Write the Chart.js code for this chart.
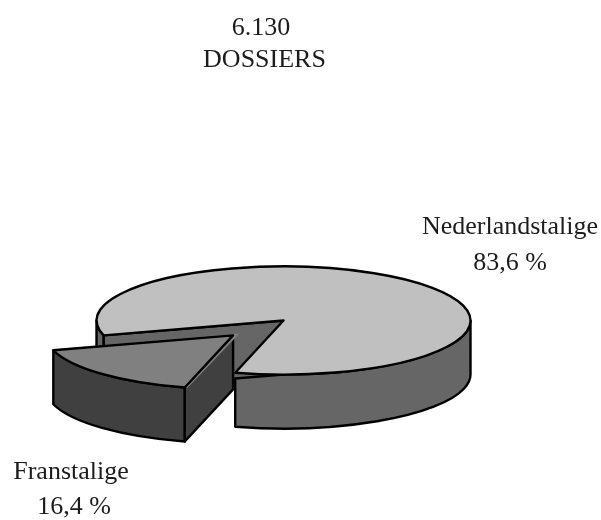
<!DOCTYPE html>
<html>
<head>
<meta charset="utf-8">
<style>
  html, body { margin: 0; padding: 0; background: #fff; }
  canvas { display: block; }
</style>
<script src="https://cdn.jsdelivr.net/npm/chart.js@4/dist/chart.umd.min.js"></script>
</head>
<body>
<canvas id="pie" width="601" height="520"></canvas>
<script>
// Dossiers by language role
const totalLines = ['6.130', 'DOSSIERS'];
const categories = ['Nederlandstalige', 'Franstalige'];
const shares = [83.6, 16.4];
const shareLabels = ['83,6 %', '16,4 %'];
const topColours = ['#c0c0c0', '#808080'];
const sideColours = ['#666666', '#404040'];

// Tilted-disc geometry on the page
const DISC = { cx: 283.5, cy: 320.5, tilt: 0.289, depth: 54, radius: 187, pull: 252 };
const INK = '#000000';
const PEN = 2.4;
const TEXT_INK = '#1c1c1c';
const TEXT_FONT = '26px "Liberation Serif"';

// Where an arc's centre lands once the tilt and the slice pull-out are applied
function placed(arc) {
  const mid = (arc.startAngle + arc.endAngle) / 2;
  const o = (arc.options.offset || 0) / 4;
  const shift = o * (2 - Math.sin(Math.min(Math.PI, arc.circumference)));
  return {
    x: DISC.cx + Math.cos(mid) * shift,
    y: DISC.cy + Math.sin(mid) * shift * DISC.tilt,
    rx: arc.outerRadius,
    ry: arc.outerRadius * DISC.tilt
  };
}

function rimPoint(p, angle, drop) {
  return [p.x + Math.cos(angle) * p.rx, p.y + Math.sin(angle) * p.ry + drop];
}

function paint(ctx, fill) {
  ctx.fillStyle = fill;
  ctx.fill();
  ctx.strokeStyle = INK;
  ctx.lineWidth = PEN;
  ctx.lineJoin = 'round';
  ctx.stroke();
}

// Outer wall, limited to the front half of the disc
function drawRimWall(ctx, p, from, to, fill) {
  ctx.beginPath();
  ctx.ellipse(p.x, p.y, p.rx, p.ry, 0, from, to);
  ctx.lineTo(...rimPoint(p, to, DISC.depth));
  ctx.ellipse(p.x, p.y + DISC.depth, p.rx, p.ry, 0, to, from, true);
  ctx.closePath();
  paint(ctx, fill);
}

// Flat cut wall running from the centre out to the rim
function drawCutWall(ctx, p, angle, fill) {
  ctx.beginPath();
  ctx.moveTo(p.x, p.y);
  ctx.lineTo(...rimPoint(p, angle, 0));
  ctx.lineTo(...rimPoint(p, angle, DISC.depth));
  ctx.lineTo(p.x, p.y + DISC.depth);
  ctx.closePath();
  paint(ctx, fill);
}

const tiltedDisc = {
  id: 'tiltedDisc',
  beforeDatasetsDraw(chart) {
    const ctx = chart.ctx;
    const arcs = chart.getDatasetMeta(0).data;
    arcs.forEach((arc, i) => {
      const p = placed(arc);
      const front = [[0, Math.PI], [2 * Math.PI, 3 * Math.PI]];
      front.forEach(([lo, hi]) => {
        const from = Math.max(arc.startAngle, lo);
        const to = Math.min(arc.endAngle, hi);
        if (to > from) drawRimWall(ctx, p, from, to, sideColours[i]);
      });
      if (Math.cos(arc.startAngle) < 0) drawCutWall(ctx, p, arc.startAngle, sideColours[i]);
    });
    const first = arcs[0];
    ctx.save();
    ctx.translate(DISC.cx, DISC.cy);
    ctx.scale(1, DISC.tilt);
    ctx.translate(-first.x, -first.y);
  },
  afterDatasetsDraw(chart) {
    const ctx = chart.ctx;
    ctx.restore();
    // Outlines go on after the tilt is undone so the pen stays even
    chart.getDatasetMeta(0).data.forEach(arc => {
      const p = placed(arc);
      ctx.beginPath();
      ctx.moveTo(p.x, p.y);
      ctx.ellipse(p.x, p.y, p.rx, p.ry, 0, arc.startAngle, arc.endAngle);
      ctx.closePath();
      ctx.strokeStyle = INK;
      ctx.lineWidth = PEN;
      ctx.lineJoin = 'round';
      ctx.stroke();
    });
  }
};

const captions = {
  id: 'captions',
  afterDraw(chart) {
    const ctx = chart.ctx;
    ctx.save();
    ctx.font = TEXT_FONT;
    ctx.fillStyle = TEXT_INK;
    ctx.textAlign = 'center';
    ctx.textBaseline = 'alphabetic';
    ctx.fillText(totalLines[0], 261, 35);
    ctx.fillText(totalLines[1], 264.5, 67);
    ctx.fillText(categories[0], 510, 234);
    ctx.fillText(shareLabels[0], 510, 270);
    ctx.fillText(categories[1], 71, 479);
    ctx.fillText(shareLabels[1], 74, 514);
    ctx.restore();
  }
};

new Chart(document.getElementById('pie'), {
  type: 'pie',
  data: {
    labels: categories,
    datasets: [{
      data: shares,
      backgroundColor: topColours,
      borderWidth: 0,
      offset: [0, DISC.pull],
      clip: false
    }]
  },
  options: {
    responsive: false,
    animation: false,
    events: [],
    rotation: 254,
    radius: DISC.radius,
    plugins: { legend: { display: false }, tooltip: { enabled: false } }
  },
  plugins: [tiltedDisc, captions]
});
</script>
</body>
</html>
